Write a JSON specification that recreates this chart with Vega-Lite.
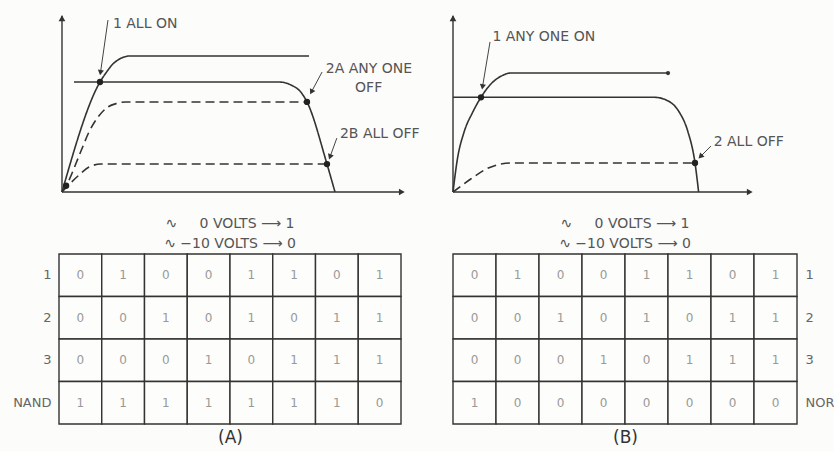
{
  "$schema": "https://vega.github.io/schema/vega-lite/v6.json",
  "background": "#fcfcfa",
  "padding": {"left": 12, "top": 14, "right": 12, "bottom": 6},
  "spacing": 29,
  "config": {
    "font": "DejaVu Sans",
    "view": {"stroke": null},
    "title": {"fontSize": 14, "fontWeight": "normal", "color": "#555", "lineHeight": 20, "offset": 2, "anchor": "middle", "frame": "group"}
  },
  "datasets": {
    "curvesA": [
      {"curve": "all on", "t": 0, "v": 0},
      {"curve": "all on", "t": 11.05, "v": 61.8},
      {"curve": "all on", "t": 13.0, "v": 67.5},
      {"curve": "all on", "t": 14.5, "v": 71.3},
      {"curve": "all on", "t": 16.3, "v": 74.2},
      {"curve": "all on", "t": 18.0, "v": 75.8},
      {"curve": "all on", "t": 19.5, "v": 76.4},
      {"curve": "all on", "t": 71.8, "v": 76.4},
      {"curve": "load line", "t": 3.49, "v": 61.8},
      {"curve": "load line", "t": 63.08, "v": 61.8},
      {"curve": "load line", "t": 66.57, "v": 60.1},
      {"curve": "load line", "t": 69.48, "v": 56.0},
      {"curve": "load line", "t": 71.22, "v": 50.6},
      {"curve": "load line", "t": 77.03, "v": 15.7},
      {"curve": "load line", "t": 79.36, "v": 0},
      {"curve": "any one off", "t": 0, "v": 0},
      {"curve": "any one off", "t": 1.16, "v": 3.4},
      {"curve": "any one off", "t": 5.52, "v": 23.0},
      {"curve": "any one off", "t": 7.85, "v": 33.7},
      {"curve": "any one off", "t": 10.47, "v": 42.1},
      {"curve": "any one off", "t": 13.37, "v": 47.8},
      {"curve": "any one off", "t": 16.0, "v": 49.8},
      {"curve": "any one off", "t": 18.6, "v": 50.6},
      {"curve": "any one off", "t": 71.22, "v": 50.6},
      {"curve": "all off", "t": 0, "v": 0},
      {"curve": "all off", "t": 4.65, "v": 9.0},
      {"curve": "all off", "t": 7.85, "v": 14.0},
      {"curve": "all off", "t": 11.3, "v": 15.7},
      {"curve": "all off", "t": 77.03, "v": 15.7}
    ],
    "dotsA": [
      {"t": 11.05, "v": 61.8},
      {"t": 71.22, "v": 50.6},
      {"t": 77.03, "v": 15.7},
      {"t": 1.2, "v": 3.5}
    ],
    "labelsA": [
      {"text": "1 ALL ON", "t": 14.8, "v": 94.4},
      {"text": "2A ANY ONE", "t": 76.7, "v": 69.1},
      {"text": "OFF", "t": 85.2, "v": 58.4},
      {"text": "2B ALL OFF", "t": 80.8, "v": 32.6}
    ],
    "curvesB": [
      {"curve": "any one on", "t": 0, "v": 0},
      {"curve": "any one on", "t": 1.46, "v": 18.5},
      {"curve": "any one on", "t": 3.65, "v": 33.5},
      {"curve": "any one on", "t": 6.54, "v": 44.8},
      {"curve": "any one on", "t": 9.3, "v": 53.2},
      {"curve": "any one on", "t": 12.6, "v": 60.7},
      {"curve": "any one on", "t": 15.9, "v": 65.0},
      {"curve": "any one on", "t": 19.3, "v": 66.85},
      {"curve": "any one on", "t": 71.43, "v": 66.85},
      {"curve": "load line", "t": 0, "v": 53.2},
      {"curve": "load line", "t": 66.9, "v": 53.2},
      {"curve": "load line", "t": 71.3, "v": 51.3},
      {"curve": "load line", "t": 75.2, "v": 44.8},
      {"curve": "load line", "t": 77.95, "v": 34.4},
      {"curve": "load line", "t": 80.4, "v": 16.3},
      {"curve": "load line", "t": 81.6, "v": 0},
      {"curve": "all off", "t": 0, "v": 0},
      {"curve": "all off", "t": 5.9, "v": 7.3},
      {"curve": "all off", "t": 11.5, "v": 13.3},
      {"curve": "all off", "t": 15.9, "v": 15.7},
      {"curve": "all off", "t": 19.3, "v": 16.3},
      {"curve": "all off", "t": 80.4, "v": 16.3}
    ],
    "dotsB": [
      {"t": 9.3, "v": 53.2},
      {"t": 80.4, "v": 16.3}
    ],
    "endB": [
      {"t": 71.43, "v": 66.85}
    ],
    "labelsB": [
      {"text": "1 ANY ONE ON", "t": 13.1, "v": 86.9},
      {"text": "2 ALL OFF", "t": 86.6, "v": 27.9}
    ],
    "tableA": [
      {"row": "1", "col": 1, "val": "0"}, {"row": "1", "col": 2, "val": "1"}, {"row": "1", "col": 3, "val": "0"}, {"row": "1", "col": 4, "val": "0"},
      {"row": "1", "col": 5, "val": "1"}, {"row": "1", "col": 6, "val": "1"}, {"row": "1", "col": 7, "val": "0"}, {"row": "1", "col": 8, "val": "1"},
      {"row": "2", "col": 1, "val": "0"}, {"row": "2", "col": 2, "val": "0"}, {"row": "2", "col": 3, "val": "1"}, {"row": "2", "col": 4, "val": "0"},
      {"row": "2", "col": 5, "val": "1"}, {"row": "2", "col": 6, "val": "0"}, {"row": "2", "col": 7, "val": "1"}, {"row": "2", "col": 8, "val": "1"},
      {"row": "3", "col": 1, "val": "0"}, {"row": "3", "col": 2, "val": "0"}, {"row": "3", "col": 3, "val": "0"}, {"row": "3", "col": 4, "val": "1"},
      {"row": "3", "col": 5, "val": "0"}, {"row": "3", "col": 6, "val": "1"}, {"row": "3", "col": 7, "val": "1"}, {"row": "3", "col": 8, "val": "1"},
      {"row": "NAND", "col": 1, "val": "1"}, {"row": "NAND", "col": 2, "val": "1"}, {"row": "NAND", "col": 3, "val": "1"}, {"row": "NAND", "col": 4, "val": "1"},
      {"row": "NAND", "col": 5, "val": "1"}, {"row": "NAND", "col": 6, "val": "1"}, {"row": "NAND", "col": 7, "val": "1"}, {"row": "NAND", "col": 8, "val": "0"}
    ],
    "tableB": [
      {"row": "1", "col": 1, "val": "0"}, {"row": "1", "col": 2, "val": "1"}, {"row": "1", "col": 3, "val": "0"}, {"row": "1", "col": 4, "val": "0"},
      {"row": "1", "col": 5, "val": "1"}, {"row": "1", "col": 6, "val": "1"}, {"row": "1", "col": 7, "val": "0"}, {"row": "1", "col": 8, "val": "1"},
      {"row": "2", "col": 1, "val": "0"}, {"row": "2", "col": 2, "val": "0"}, {"row": "2", "col": 3, "val": "1"}, {"row": "2", "col": 4, "val": "0"},
      {"row": "2", "col": 5, "val": "1"}, {"row": "2", "col": 6, "val": "0"}, {"row": "2", "col": 7, "val": "1"}, {"row": "2", "col": 8, "val": "1"},
      {"row": "3", "col": 1, "val": "0"}, {"row": "3", "col": 2, "val": "0"}, {"row": "3", "col": 3, "val": "0"}, {"row": "3", "col": 4, "val": "1"},
      {"row": "3", "col": 5, "val": "0"}, {"row": "3", "col": 6, "val": "1"}, {"row": "3", "col": 7, "val": "1"}, {"row": "3", "col": 8, "val": "1"},
      {"row": "NOR", "col": 1, "val": "1"}, {"row": "NOR", "col": 2, "val": "0"}, {"row": "NOR", "col": 3, "val": "0"}, {"row": "NOR", "col": 4, "val": "0"},
      {"row": "NOR", "col": 5, "val": "0"}, {"row": "NOR", "col": 6, "val": "0"}, {"row": "NOR", "col": 7, "val": "0"}, {"row": "NOR", "col": 8, "val": "0"}
    ]
  },
  "hconcat": [
    {
      "spacing": 62,
      "bounds": "flush",
      "vconcat": [
        {
          "width": 347,
          "height": 178,
          "layer": [
            {
              "data": {"name": "curvesA"},
              "mark": {"type": "line", "interpolate": "monotone", "color": "#333", "strokeWidth": 1.6},
              "encoding": {
                "x": {"field": "t", "type": "quantitative", "scale": {"domain": [-0.87, 100], "nice": false, "zero": false}, "axis": null},
                "y": {"field": "v", "type": "quantitative", "scale": {"domain": [0, 100], "nice": false, "zero": false}, "axis": null},
                "strokeDash": {"field": "curve", "type": "nominal", "scale": {"domain": ["all on", "load line", "any one off", "all off"], "range": [[1, 0], [1, 0], [9, 5], [9, 5]]}, "legend": null}
              }
            },
            {
              "data": {"values": [{}]},
              "mark": {"type": "rule", "color": "#333", "strokeWidth": 1.4},
              "encoding": {"x": {"datum": 0, "type": "quantitative"}, "y": {"datum": 0, "type": "quantitative"}, "y2": {"datum": 99}}
            },
            {
              "data": {"values": [{}]},
              "mark": {"type": "rule", "color": "#333", "strokeWidth": 1.4},
              "encoding": {"x": {"datum": 0, "type": "quantitative"}, "x2": {"datum": 99}, "y": {"datum": 0, "type": "quantitative"}}
            },
            {
              "data": {"values": [{}]},
              "mark": {"type": "point", "shape": "triangle-up", "filled": true, "color": "#333", "size": 45, "opacity": 1},
              "encoding": {"x": {"datum": 0, "type": "quantitative"}, "y": {"datum": 97.6, "type": "quantitative"}}
            },
            {
              "data": {"values": [{}]},
              "mark": {"type": "point", "shape": "triangle-right", "filled": true, "color": "#333", "size": 45, "opacity": 1},
              "encoding": {"x": {"datum": 98.8, "type": "quantitative"}, "y": {"datum": 0, "type": "quantitative"}}
            },
            {
              "data": {"name": "dotsA"},
              "mark": {"type": "point", "filled": true, "color": "#222", "size": 40, "opacity": 1},
              "encoding": {"x": {"field": "t", "type": "quantitative"}, "y": {"field": "v", "type": "quantitative"}}
            },
            {
              "data": {"name": "labelsA"},
              "mark": {"type": "text", "align": "left", "baseline": "middle", "fontSize": 14, "color": "#555"},
              "encoding": {"x": {"field": "t", "type": "quantitative"}, "y": {"field": "v", "type": "quantitative"}, "text": {"field": "text"}}
            },
            {
              "data": {"values": [{}]},
              "mark": {"type": "rule", "color": "#444", "strokeWidth": 1},
              "encoding": {"x": {"datum": 13.37, "type": "quantitative"}, "y": {"datum": 96.6, "type": "quantitative"}, "x2": {"datum": 11.19}, "y2": {"datum": 67.1}}
            },
            {
              "data": {"values": [{}]},
              "mark": {"type": "point", "shape": "triangle-down", "filled": true, "color": "#333", "size": 38, "angle": 8.6, "opacity": 1},
              "encoding": {"x": {"datum": 11.19, "type": "quantitative"}, "y": {"datum": 67.1, "type": "quantitative"}}
            },
            {
              "data": {"values": [{}]},
              "mark": {"type": "rule", "color": "#444", "strokeWidth": 1},
              "encoding": {"x": {"datum": 75.6, "type": "quantitative"}, "y": {"datum": 67.4, "type": "quantitative"}, "x2": {"datum": 72.5}, "y2": {"datum": 56.2}}
            },
            {
              "data": {"values": [{}]},
              "mark": {"type": "point", "shape": "triangle-down", "filled": true, "color": "#333", "size": 38, "angle": 27.6, "opacity": 1},
              "encoding": {"x": {"datum": 72.5, "type": "quantitative"}, "y": {"datum": 56.2, "type": "quantitative"}}
            },
            {
              "data": {"values": [{}]},
              "mark": {"type": "rule", "color": "#444", "strokeWidth": 1},
              "encoding": {"x": {"datum": 79.9, "type": "quantitative"}, "y": {"datum": 30.3, "type": "quantitative"}, "x2": {"datum": 77.9}, "y2": {"datum": 19.7}}
            },
            {
              "data": {"values": [{}]},
              "mark": {"type": "point", "shape": "triangle-down", "filled": true, "color": "#333", "size": 38, "angle": 20, "opacity": 1},
              "encoding": {"x": {"datum": 77.9, "type": "quantitative"}, "y": {"datum": 19.7, "type": "quantitative"}}
            }
          ]
        },
        {
          "width": 342,
          "height": 170,
          "data": {"name": "tableA"},
          "title": {"text": ["∿ \u2007\u20070 VOLTS ⟶ 1", "∿ −10 VOLTS ⟶ 0"]},
          "encoding": {
            "x": {"field": "col", "type": "ordinal", "scale": {"paddingInner": 0, "paddingOuter": 0}, "axis": {"orient": "bottom", "labels": false, "ticks": false, "domain": false, "title": "(A)", "titleFontSize": 17, "titleFontWeight": "normal", "titleColor": "#333", "titlePadding": 5}},
            "y": {"field": "row", "type": "ordinal", "sort": ["1", "2", "3", "NAND"], "scale": {"paddingInner": 0, "paddingOuter": 0}, "axis": {"orient": "left", "title": null, "ticks": false, "domain": false, "labelFontSize": 13, "labelColor": "#666", "labelPadding": 8}}
          },
          "layer": [
            {"mark": {"type": "rect", "fill": "#fdfdfb", "stroke": "#333", "strokeWidth": 1.4}},
            {"mark": {"type": "text", "color": "#999", "fontSize": 12}, "encoding": {"text": {"field": "val"}}}
          ]
        }
      ]
    },
    {
      "spacing": 62,
      "bounds": "flush",
      "vconcat": [
        {
          "width": 301,
          "height": 178,
          "layer": [
            {
              "data": {"name": "curvesB"},
              "mark": {"type": "line", "interpolate": "monotone", "color": "#333", "strokeWidth": 1.6},
              "encoding": {
                "x": {"field": "t", "type": "quantitative", "scale": {"domain": [0, 100], "nice": false, "zero": false}, "axis": null},
                "y": {"field": "v", "type": "quantitative", "scale": {"domain": [0, 100], "nice": false, "zero": false}, "axis": null},
                "strokeDash": {"field": "curve", "type": "nominal", "scale": {"domain": ["any one on", "load line", "all off"], "range": [[1, 0], [1, 0], [9, 5]]}, "legend": null}
              }
            },
            {
              "data": {"values": [{}]},
              "mark": {"type": "rule", "color": "#333", "strokeWidth": 1.4},
              "encoding": {"x": {"datum": 0, "type": "quantitative"}, "y": {"datum": 0, "type": "quantitative"}, "y2": {"datum": 99}}
            },
            {
              "data": {"values": [{}]},
              "mark": {"type": "rule", "color": "#333", "strokeWidth": 1.4},
              "encoding": {"x": {"datum": 0, "type": "quantitative"}, "x2": {"datum": 99}, "y": {"datum": 0, "type": "quantitative"}}
            },
            {
              "data": {"values": [{}]},
              "mark": {"type": "point", "shape": "triangle-up", "filled": true, "color": "#333", "size": 45, "opacity": 1},
              "encoding": {"x": {"datum": 0, "type": "quantitative"}, "y": {"datum": 97.6, "type": "quantitative"}}
            },
            {
              "data": {"values": [{}]},
              "mark": {"type": "point", "shape": "triangle-right", "filled": true, "color": "#333", "size": 45, "opacity": 1},
              "encoding": {"x": {"datum": 98.6, "type": "quantitative"}, "y": {"datum": 0, "type": "quantitative"}}
            },
            {
              "data": {"name": "dotsB"},
              "mark": {"type": "point", "filled": true, "color": "#222", "size": 40, "opacity": 1},
              "encoding": {"x": {"field": "t", "type": "quantitative"}, "y": {"field": "v", "type": "quantitative"}}
            },
            {
              "data": {"name": "endB"},
              "mark": {"type": "point", "filled": true, "color": "#333", "size": 18, "opacity": 1},
              "encoding": {"x": {"field": "t", "type": "quantitative"}, "y": {"field": "v", "type": "quantitative"}}
            },
            {
              "data": {"name": "labelsB"},
              "mark": {"type": "text", "align": "left", "baseline": "middle", "fontSize": 14, "color": "#555"},
              "encoding": {"x": {"field": "t", "type": "quantitative"}, "y": {"field": "v", "type": "quantitative"}, "text": {"field": "text"}}
            },
            {
              "data": {"values": [{}]},
              "mark": {"type": "rule", "color": "#444", "strokeWidth": 1},
              "encoding": {"x": {"datum": 12.3, "type": "quantitative"}, "y": {"datum": 84.3, "type": "quantitative"}, "x2": {"datum": 9.8}, "y2": {"datum": 59.0}}
            },
            {
              "data": {"values": [{}]},
              "mark": {"type": "point", "shape": "triangle-down", "filled": true, "color": "#333", "size": 38, "angle": 9.5, "opacity": 1},
              "encoding": {"x": {"datum": 9.8, "type": "quantitative"}, "y": {"datum": 59.0, "type": "quantitative"}}
            },
            {
              "data": {"values": [{}]},
              "mark": {"type": "rule", "color": "#444", "strokeWidth": 1},
              "encoding": {"x": {"datum": 85.7, "type": "quantitative"}, "y": {"datum": 25.8, "type": "quantitative"}, "x2": {"datum": 82.2}, "y2": {"datum": 19.9}}
            },
            {
              "data": {"values": [{}]},
              "mark": {"type": "point", "shape": "triangle-down", "filled": true, "color": "#333", "size": 38, "angle": 45, "opacity": 1},
              "encoding": {"x": {"datum": 82.2, "type": "quantitative"}, "y": {"datum": 19.9, "type": "quantitative"}}
            }
          ]
        },
        {
          "width": 344,
          "height": 170,
          "data": {"name": "tableB"},
          "title": {"text": ["∿ \u2007\u20070 VOLTS ⟶ 1", "∿ −10 VOLTS ⟶ 0"]},
          "encoding": {
            "x": {"field": "col", "type": "ordinal", "scale": {"paddingInner": 0, "paddingOuter": 0}, "axis": {"orient": "bottom", "labels": false, "ticks": false, "domain": false, "title": "(B)", "titleFontSize": 17, "titleFontWeight": "normal", "titleColor": "#333", "titlePadding": 5}},
            "y": {"field": "row", "type": "ordinal", "sort": ["1", "2", "3", "NOR"], "scale": {"paddingInner": 0, "paddingOuter": 0}, "axis": {"orient": "right", "title": null, "ticks": false, "domain": false, "labelFontSize": 13, "labelColor": "#666", "labelPadding": 8}}
          },
          "layer": [
            {"mark": {"type": "rect", "fill": "#fdfdfb", "stroke": "#333", "strokeWidth": 1.4}},
            {"mark": {"type": "text", "color": "#999", "fontSize": 12}, "encoding": {"text": {"field": "val"}}}
          ]
        }
      ]
    }
  ]
}
